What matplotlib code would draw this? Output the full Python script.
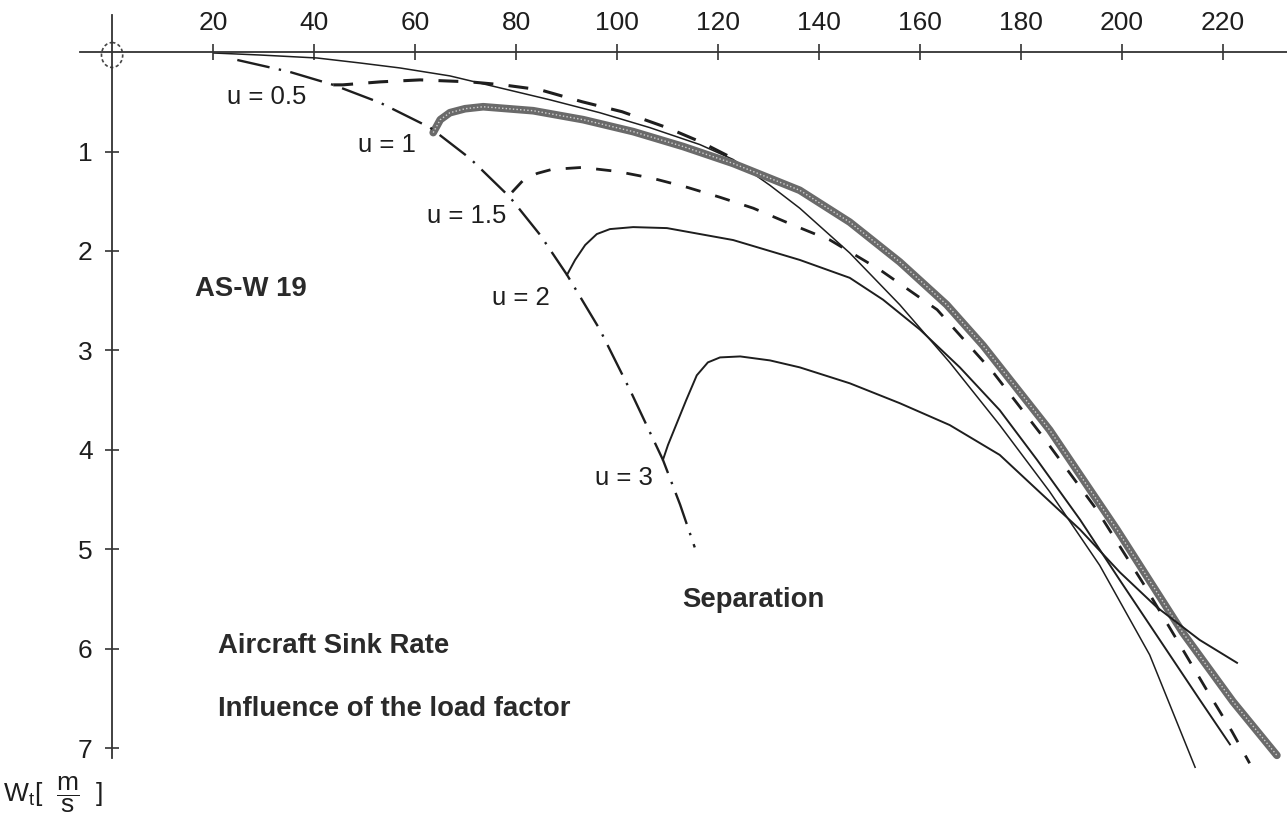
import matplotlib
matplotlib.use("Agg")
import matplotlib.pyplot as plt
from matplotlib.patches import Ellipse

plt.rcParams['font.family'] = ['Liberation Sans', 'DejaVu Sans']
plt.rcParams['mathtext.fontset'] = 'custom'
plt.rcParams['mathtext.rm'] = 'Liberation Sans'

# speed v [km/h], sink rate w [m/s]
sep_v = [24.8, 35.2, 43.8, 53.1, 63.0, 70.9, 78.8, 84.8, 90.1, 96.6, 102.6, 109.1, 112.5, 115.4]
sep_w = [0.08, 0.20, 0.33, 0.51, 0.76, 1.07, 1.46, 1.84, 2.24, 2.79, 3.40, 4.10, 4.55, 4.98]

base_v = [20.2, 29.3, 40.6, 49.1, 57.0, 66.9, 76.8, 86.7, 96.6, 106.5, 116.4, 123.0,
          130.3, 136.2, 146.1, 156.0, 165.9, 175.8, 185.7, 195.6, 205.5, 214.5]
base_w = [0.01, 0.03, 0.06, 0.11, 0.16, 0.24, 0.36, 0.48, 0.61, 0.76, 0.93, 1.08,
          1.34, 1.57, 2.02, 2.54, 3.12, 3.75, 4.42, 5.16, 6.06, 7.19]

u05_v = [43.8, 45.7, 53.1, 61.0, 70.9, 77.4, 84.8, 93.1, 101.0, 109.9, 116.4, 123.0]
u05_w = [0.33, 0.33, 0.30, 0.28, 0.30, 0.33, 0.38, 0.50, 0.60, 0.76, 0.90, 1.07]

u1_v = [63.6, 65.0, 66.9, 69.9, 73.5, 83.4, 93.3, 103.2, 113.1, 123.0, 136.2, 146.1,
        156.0, 165.3, 172.5, 185.7, 199.0, 212.1, 222.0, 230.7]
u1_w = [0.81, 0.68, 0.61, 0.57, 0.55, 0.59, 0.68, 0.80, 0.95, 1.12, 1.39, 1.71,
        2.11, 2.54, 2.95, 3.80, 4.80, 5.84, 6.53, 7.07]

u15_v = [79.2, 81.4, 84.2, 87.1, 93.1, 100.0, 107.1, 113.9, 120.4, 127.0, 134.9, 142.2,
         152.1, 163.4, 174.5, 184.4, 195.0, 204.2, 211.5, 217.0, 221.8, 225.3]
u15_w = [1.41, 1.29, 1.22, 1.18, 1.16, 1.20, 1.27, 1.36, 1.46, 1.57, 1.74, 1.89,
         2.19, 2.59, 3.22, 3.87, 4.60, 5.34, 5.96, 6.43, 6.83, 7.15]

u2_v = [90.1, 91.7, 93.7, 96.0, 98.6, 103.2, 109.9, 123.0, 136.2, 146.1, 152.7, 160.0,
        167.9, 175.8, 183.2, 191.7, 199.6, 207.5, 215.4, 221.4]
u2_w = [2.24, 2.09, 1.94, 1.83, 1.78, 1.76, 1.77, 1.89, 2.09, 2.27, 2.49, 2.79,
        3.17, 3.60, 4.10, 4.70, 5.31, 5.91, 6.51, 6.96]

u3_v = [109.1, 110.1, 111.7, 113.7, 115.8, 118.0, 120.4, 124.4, 130.3, 136.2, 146.1,
        156.0, 165.9, 175.8, 183.2, 191.7, 199.6, 206.9, 215.4, 222.8]
u3_w = [4.10, 3.95, 3.75, 3.50, 3.25, 3.12, 3.07, 3.06, 3.10, 3.17, 3.33,
        3.53, 3.75, 4.05, 4.40, 4.80, 5.23, 5.58, 5.91, 6.14]

x_ticks = [20, 40, 60, 80, 100, 120, 140, 160, 180, 200, 220]
y_ticks = [1, 2, 3, 4, 5, 6, 7]

ink = '#1e1e1e'

fig = plt.figure(figsize=(12.87, 8.18), dpi=100)
ax = fig.add_axes([0, 0, 1, 1])
ax.set_xlim(-22.2, 232.7)
ax.set_ylim(7.70, -0.523)

# axes through the origin
for side in ['bottom', 'right']:
    ax.spines[side].set_visible(False)
ax.spines['left'].set_position(('data', 0))
ax.spines['top'].set_position(('data', 0))
ax.spines['left'].set_bounds(-0.37, 7.1)
ax.spines['top'].set_bounds(-6.3, 232.7)
for side in ['left', 'top']:
    ax.spines[side].set_color('#333333')
    ax.spines[side].set_linewidth(1.3)
ax.xaxis.set_ticks_position('top')
ax.set_xticks(x_ticks)
ax.set_yticks(y_ticks)
ax.tick_params(axis='x', direction='inout', length=11, width=1.2, color='#333333',
               labelsize=19, pad=7, labelcolor=ink)
ax.tick_params(axis='y', direction='inout', length=10, width=1.2, color='#333333',
               labelsize=19, pad=9, labelcolor=ink)
ax.patch.set_alpha(0)

ax.add_patch(Ellipse((0.0, 0.03), 4.2, 0.25, fill=False, ls=(0, (2, 1.5)),
                     lw=1.2, color='#444444'))

# curves
ax.plot(base_v, base_w, color=ink, lw=1.1)
ax.plot(u1_v, u1_w, color='#6a6a6a', lw=5.5, solid_capstyle='round')
ax.plot(u1_v, u1_w, color='#d0d0d0', lw=1.0, dashes=(1.0, 1.6))
ax.plot(u05_v, u05_w, color=ink, lw=2.2, dashes=(6.5, 5))
ax.plot(u15_v, u15_w, color=ink, lw=2.0, dashes=(5.5, 5.5))
ax.plot(u2_v, u2_w, color=ink, lw=1.4)
ax.plot(u3_v, u3_w, color=ink, lw=1.4)
ax.plot(sep_v, sep_w, color=ink, lw=1.7, dashes=(14, 4, 1, 4))

# labels
lab = dict(fontsize=18.5, color=ink, va='center', ha='left')
ax.text(22.8, 0.45, 'u = 0.5', **lab)
ax.text(48.7, 0.93, 'u = 1', **lab)
ax.text(62.3, 1.65, 'u = 1.5', **lab)
ax.text(75.2, 2.47, 'u = 2', **lab)
ax.text(95.6, 4.28, 'u = 3', **lab)

bold = dict(fontsize=19.8, color='#2a2a2a', va='center', ha='left', fontweight='bold')
ax.text(16.4, 2.38, 'AS-W 19', **bold)
ax.text(113.0, 5.51, 'Separation', **bold)
ax.text(21.0, 5.97, 'Aircraft Sink Rate', **bold)
ax.text(21.0, 6.60, 'Influence of the load factor', **bold)

fig.text(0.002, 1 - 795 / 818, r'W$_{\mathrm{t}}$[  $\dfrac{\mathrm{m}}{\mathrm{s}}$  ]',
         fontsize=19, color=ink, va='center', ha='left')

fig.savefig('out.png', dpi=100)
